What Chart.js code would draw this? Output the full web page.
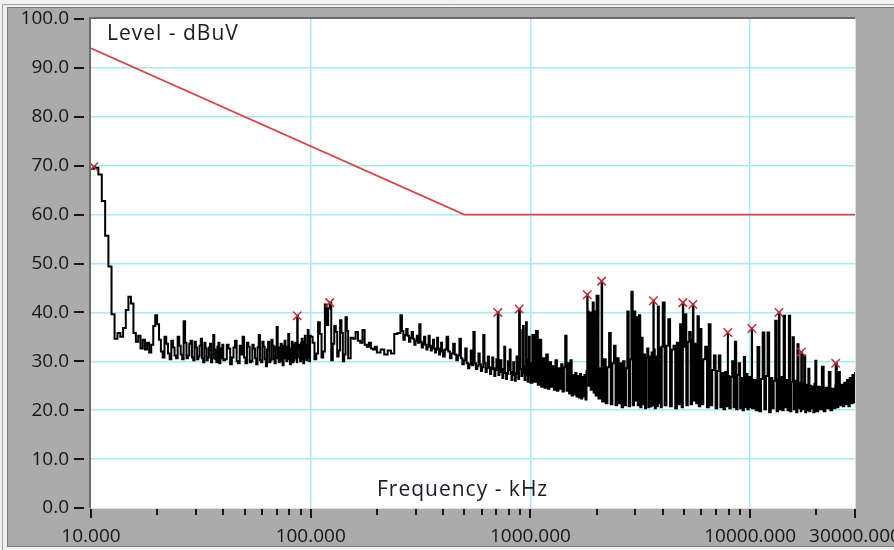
<!DOCTYPE html>
<html>
<head>
<meta charset="utf-8">
<title>Conducted emission scan</title>
<script src="https://cdn.jsdelivr.net/npm/chart.js@4.4.1/dist/chart.umd.min.js"></script>
<style>
  html, body { margin: 0; padding: 0; background: #f0f0f0; }
  #wrap { width: 894px; height: 550px; }
</style>
</head>
<body>
<div id="wrap"><canvas id="scan" width="894" height="550"></canvas></div>
<script>
// Measured spectrum, [frequency kHz, level dBuV], one list per frequency decade
const sweepLow = [
  [10.0,69.4],[10.4,69.6],[10.8,68.2],[11.2,62.8],[11.6,55.7],[12.0,49.4],[12.4,39.6],[12.8,34.6],
  [13.2,35.8],[13.6,35.0],[14.0,36.8],[14.4,40.5],[14.8,43.2],[15.2,41.8],[15.6,35.8],[16.0,34.0],
  [16.4,35.2],[16.8,32.6],[17.2,34.4],[17.6,32.4],[18.0,33.8],[18.4,31.8],[18.8,33.4],[19.2,37.2],
  [19.6,39.4],[20.0,37.6],[20.4,34.4],[20.8,32.0],[21.2,30.8],[21.6,35.0],[22.0,33.6],[22.4,31.6],
  [22.8,30.4],[23.2,34.2],[23.6,32.8],[24.0,31.2],[24.4,30.6],[24.8,35.0],[25.2,33.2],[25.6,31.4],
  [26.0,30.4],[26.4,38.2],[26.8,33.8],[27.2,30.6],[27.6,31.2],[28.0,33.6],[28.4,34.2],[28.8,30.8],
  [29.2,30.2],[29.6,34.0],[30.0,32.8],[30.4,30.4],[30.8,31.0],[31.2,33.2],[31.6,34.6],[32.0,30.6],
  [32.4,29.8],[32.8,33.8],[33.2,32.6],[33.6,30.2],[34.0,30.8],[34.4,32.8],[34.8,33.6],[35.2,29.8],
  [35.6,30.6],[36.0,35.4],[36.4,32.4],[36.8,30.4],[37.2,29.8],[37.6,33.0],[38.0,33.8],[38.4,29.6],
  [38.8,30.6],[39.2,32.6],[39.6,33.4],[40.0,30.2],[40.75,30.4],[41.5,33.4],[42.25,32.6],[43.0,29.4],
  [43.75,30.8],[44.5,32.8],[45.25,34.2],[46.0,30.0],[46.75,29.6],[47.5,33.2],[48.25,31.4],[49.0,35.0],
  [49.75,30.8],[50.5,29.6],[51.25,33.8],[52.0,33.0],[52.75,29.8],[53.5,30.0],[54.25,33.4],[55.0,32.6],
  [55.75,30.6],[56.5,29.4],[57.25,32.8],[58.0,35.4],[58.75,30.2],[59.5,29.8],[60.25,34.0],[61.0,33.0],
  [61.75,30.4],[62.5,29.0],[63.25,32.4],[64.0,34.0],[64.75,29.8],[65.5,30.2],[66.25,34.4],[67.0,33.2],
  [67.75,30.4],[68.5,29.6],[69.25,33.0],[70.0,37.0],[70.75,30.6],[71.5,29.8],[72.25,32.8],[73.0,33.6],
  [73.75,30.0],[74.5,29.2],[75.25,33.2],[76.0,34.2],[76.75,30.6],[77.5,30.0],[78.25,33.0],[79.0,35.6],
  [79.75,30.4],[80.5,29.4],[81.25,32.6],[82.0,34.0],[82.75,29.8],[83.5,30.2],[84.25,33.4],[85.0,33.8],
  [85.75,30.6],[86.5,29.8],[87.25,32.4],[88.0,33.4],[88.75,30.8],[89.5,30.0],[90.25,33.8],[91.0,34.6],
  [91.75,30.4],[92.5,29.6],[93.25,34.0],[94.0,35.2],[94.75,30.6],[95.5,30.2],[96.25,33.4],[97.0,36.4],
  [97.75,30.8],[98.5,30.0],[99.25,35.2]
];

const sweepMid = [
  [100,35.0],[102,33.8],[104,30.4],[106,31.6],[108,38.0],[110,35.6],[112,30.8],[114,32.0],
  [116,41.6],[118,37.4],[120,40.8],[124,30.2],[126,33.6],[128,37.2],[130,36.0],[132,31.0],
  [134,32.2],[136,38.4],[138,35.8],[140,30.0],[142,31.4],[144,39.0],[146,36.2],[148,30.6],
  [152,34.8],[156,34.6],[160,36.0],[164,34.2],[168,33.8],[172,36.4],[176,33.4],[180,33.0],
  [184,33.8],[188,32.6],[192,32.4],[196,33.0],[200,31.8],[208,32.4],[216,31.4],[224,32.2],
  [232,31.6],[240,35.6],[248,35.8],[256,39.4],[260,36.2],[264,34.4],[268,35.4],[272,36.6],
  [276,35.2],[280,34.0],[284,34.8],[288,36.0],[292,34.6],[296,33.4],[300,34.2],[304,35.2],
  [308,33.8],[312,37.6],[316,34.0],[320,32.8],[324,33.6],[328,35.0],[332,33.4],[336,32.4],
  [340,33.0],[344,35.2],[348,33.2],[352,32.2],[356,32.8],[360,34.4],[364,32.6],[368,31.8],
  [372,32.4],[376,34.8],[380,32.6],[384,31.4],[388,32.0],[392,33.8],[396,32.2],[400,31.0],
  [407.5,32.4],[415,35.0],[422.5,32.0],[430,30.6],[437.5,31.6],[445,33.6],[452.5,31.4],[460,30.2],
  [467.5,31.2],[475,34.6],[482.5,30.6],[490,29.4],[497.5,30.2],[505,32.6],[512.5,29.6],[520,28.6],
  [527.5,29.4],[535,32.2],[542.5,29.2],[550,36.0],[557.5,29.6],[565,28.4],[572.5,29.0],[580,31.6],
  [587.5,29.4],[595,28.0],[602.5,28.8],[610,35.4],[617.5,29.6],[625,27.8],[632.5,28.6],[640,31.0],
  [647.5,28.8],[655,27.4],[662.5,28.4],[670,30.8],[677.5,28.6],[685,27.0],[692.5,28.2],[700,30.4],
  [707.5,28.4],[715,27.2],[722.5,28.0],[730,30.2],[737.5,27.8],[745,26.6],[752.5,28.4],[760,33.0],
  [767.5,27.6],[775,26.4],[782.5,27.4],[790,30.0],[797.5,28.2],[805,32.4],[812.5,27.4],[820,26.2],
  [827.5,27.8],[835,29.8],[842.5,27.2],[850,26.0],[857.5,27.6],[865,31.0],[872.5,27.4],[880,26.4],
  [895,36.4],[902.5,28.4],[910,27.0],[917.5,27.6],[925,37.2],[932.5,29.0],[940,26.2],[947.5,27.2],
  [955,38.0],[962.5,30.4],[970,25.8],[977.5,27.0],[985,35.0],[992.5,29.6]
];

const sweepHigh = [
  [1000,25.6],[1020,35.4],[1040,25.8],[1060,36.2],[1080,25.2],[1100,34.4],[1120,24.8],[1140,30.6],
  [1160,24.6],[1180,31.4],[1200,24.4],[1220,29.8],[1240,24.8],[1260,29.0],[1280,24.2],[1300,30.2],
  [1320,24.0],[1340,28.6],[1360,24.4],[1380,29.4],[1400,23.8],[1420,28.8],[1440,35.2],[1460,24.0],
  [1480,29.6],[1500,23.4],[1520,30.2],[1540,23.0],[1560,27.2],[1580,23.2],[1600,27.6],[1620,22.8],
  [1640,27.0],[1660,22.6],[1680,27.4],[1700,22.4],[1720,26.8],[1740,22.8],[1760,27.2],[1780,22.2],
  [1800,28.0],[1820,40.2],[1840,25.0],[1860,40.0],[1880,24.2],[1900,27.6],[1920,42.0],[1940,23.6],
  [1960,40.2],[1980,23.0],[2000,43.4],[2040,22.4],[2080,28.6],[2120,21.8],[2160,30.4],[2200,21.4],
  [2240,28.8],[2280,35.8],[2320,21.2],[2360,29.6],[2400,33.2],[2440,21.0],[2480,30.6],[2520,21.4],
  [2560,29.6],[2600,20.6],[2640,30.0],[2680,21.0],[2720,28.6],[2760,40.2],[2800,20.8],[2840,30.4],
  [2880,44.2],[2920,21.0],[2960,40.2],[3000,22.0],[3040,39.0],[3080,21.0],[3120,39.4],[3160,20.6],
  [3200,34.8],[3240,21.2],[3280,31.4],[3320,20.4],[3360,30.8],[3400,32.6],[3440,20.6],[3480,31.0],
  [3520,20.8],[3560,31.8],[3600,21.0],[3640,32.4],[3680,20.4],[3720,31.0],[3760,20.8],[3800,41.2],
  [3840,21.4],[3880,32.8],[3920,20.6],[3960,33.0],[4000,42.0],[4080,21.0],[4160,33.2],[4240,38.6],
  [4320,20.8],[4400,32.4],[4480,33.2],[4560,20.4],[4640,33.8],[4720,21.2],[4800,37.6],[4880,20.6],
  [4960,33.0],[5040,39.6],[5120,21.0],[5200,34.0],[5280,36.0],[5360,21.2],[5440,34.4],[5520,22.0],
  [5600,33.6],[5680,21.4],[5760,39.2],[5840,20.8],[5920,36.6],[6000,21.2],[6120,30.4],[6240,33.0],
  [6360,20.6],[6480,37.6],[6600,21.0],[6720,28.2],[6840,31.2],[6960,20.4],[7080,28.0],[7200,31.2],
  [7320,20.6],[7440,27.6],[7560,20.2],[7680,27.8],[7800,20.8],[7920,27.0],[8040,20.4],[8160,26.8],
  [8280,30.0],[8400,20.6],[8520,34.0],[8640,20.2],[8760,27.2],[8880,29.6],[9000,20.4],[9120,26.6],
  [9240,20.0],[9360,30.9],[9480,20.6],[9600,27.4],[9720,20.2],[9840,26.8],[9960,20.6]
];

const sweepTop = [
  [10000,26.8],[10200,20.4],[10400,26.2],[10600,20.0],[10800,32.9],[11000,19.8],[11200,26.4],[11400,35.9],
  [11600,20.2],[11800,27.0],[12000,35.9],[12200,19.6],[12400,26.6],[12600,20.4],[12800,26.0],[13000,38.3],
  [13200,19.8],[13400,26.4],[13600,20.2],[13800,26.8],[14000,20.0],[14200,39.3],[14400,20.6],[14600,26.2],
  [14800,20.0],[15000,39.3],[15200,19.8],[15400,25.8],[15600,34.9],[15800,20.2],[16000,26.0],[16200,19.6],
  [16400,33.5],[16600,20.4],[16800,25.6],[17000,19.8],[17200,25.4],[17400,20.2],[17600,31.2],[17800,19.6],
  [18000,25.2],[18200,20.0],[18400,28.5],[18600,19.8],[18800,25.0],[19000,20.4],[19200,24.8],[19400,19.6],
  [19600,25.4],[19800,30.1],[20000,19.8],[20400,24.8],[20800,20.2],[21200,28.9],[21600,19.8],[22000,24.6],
  [22400,20.4],[22800,27.8],[23200,20.0],[23600,24.4],[24000,20.4],[24400,25.0],[24800,20.6],[25200,27.8],
  [25600,21.0],[26000,25.2],[26400,20.8],[26800,25.6],[27200,21.2],[27600,26.2],[28000,20.8],[28400,26.6],
  [28800,21.4],[29200,27.2],[29600,21.6],[30000,27.8]
];

// Peak search results (marked with x)
const peaks = [
  [10.3,69.8],[86.8,39.3],[122,42.0],[710,40.0],[888,40.7],[1814,43.6],[2108,46.4],[3627,42.4],
  [4940,42.0],[5487,41.6],[7912,35.9],[10180,36.7],[13520,40.0],[17080,31.9],[24500,29.6]
];

// Limit line
const limitKHz = [10, 500, 30000];
const limitDbuV = [94, 60, 60];

// Axis ticks
const xTickValues = [10,20,30,40,50,60,70,80,90,100,200,300,400,500,600,700,800,900,
  1000,2000,3000,4000,5000,6000,7000,8000,9000,10000,20000,30000];
const xLabelValues = [10, 100, 1000, 10000, 30000];
const xGridValues = [100, 1000, 10000];
const yTickValues = [0,10,20,30,40,50,60,70,80,90,100];

const GRID = '#a4ecf1';
const INK = '#161616';
const FONT = '"Open Sans", "Noto Sans", sans-serif';

const toPoint = ([x, y]) => ({ x, y });
const spectrum = [...sweepLow, ...sweepMid, ...sweepHigh, ...sweepTop, ...peaks]
  .sort((a, b) => a[0] - b[0])
  .map(toPoint);
const limit = limitKHz.map((f, i) => ({ x: f, y: limitDbuV[i] }));

const panel = {
  id: 'panel',
  beforeDraw(chart) {
    const { ctx, chartArea: a, width, height } = chart;
    ctx.save();
    ctx.fillStyle = '#f0f0f0';
    ctx.fillRect(0, 0, width, height);
    ctx.strokeStyle = '#a3a3a3';
    ctx.lineWidth = 1;
    ctx.beginPath();
    ctx.moveTo(2.5, height);
    ctx.lineTo(2.5, 4.5);
    ctx.lineTo(width, 4.5);
    ctx.stroke();
    ctx.fillStyle = '#ababab';
    ctx.fillRect(7, 7, width - 7, 540);
    ctx.strokeStyle = '#7a7a7a';
    ctx.beginPath();
    ctx.moveTo(7.5, 547);
    ctx.lineTo(7.5, 7.5);
    ctx.lineTo(width, 7.5);
    ctx.moveTo(7, 546.5);
    ctx.lineTo(width, 546.5);
    ctx.stroke();
    ctx.fillStyle = '#ffffff';
    ctx.fillRect(a.left, a.top, a.right - a.left, a.bottom - a.top);
    ctx.restore();
  },
  afterDraw(chart) {
    const { ctx, chartArea: a } = chart;
    const xs = chart.scales.x;
    const ys = chart.scales.y;
    ctx.save();
    // sunken frame round the plot
    ctx.strokeStyle = '#6c6c6c';
    ctx.lineWidth = 2;
    ctx.beginPath();
    ctx.moveTo(a.left - 1, a.bottom);
    ctx.lineTo(a.left - 1, a.top - 1);
    ctx.lineTo(a.right, a.top - 1);
    ctx.stroke();
    ctx.strokeStyle = '#dcdcdc';
    ctx.lineWidth = 1;
    ctx.beginPath();
    ctx.moveTo(a.left, a.bottom + 0.5);
    ctx.lineTo(a.right + 0.5, a.bottom + 0.5);
    ctx.lineTo(a.right + 0.5, a.top);
    ctx.stroke();

    // tick marks
    ctx.fillStyle = INK;
    xTickValues.forEach(v => {
      const px = Math.round(xs.getPixelForValue(v));
      const len = xLabelValues.includes(v) ? 9 : 6;
      ctx.fillRect(px - 1, a.bottom + 1, 2, len);
    });
    yTickValues.forEach(v => {
      const py = Math.round(ys.getPixelForValue(v));
      ctx.fillRect(74, py - 1, 10, 2);
    });

    // axis captions inside the plot
    ctx.font = '21px ' + FONT;
    ctx.fillStyle = '#1c1a24';
    ctx.textBaseline = 'alphabetic';
    ctx.letterSpacing = '1px';
    ctx.fillText('Level - dBuV', 107, 40);
    ctx.fillText('Frequency - kHz', 377, 496);
    ctx.restore();
  }
};

new Chart(document.getElementById('scan'), {
  type: 'scatter',
  data: {
    datasets: [
      {
        label: 'Peaks',
        data: peaks.map(toPoint),
        showLine: false,
        pointStyle: 'crossRot',
        pointRadius: 6,
        pointBorderColor: '#bf2e3c',
        pointBorderWidth: 1.5,
        order: 0
      },
      {
        label: 'Level',
        data: spectrum,
        showLine: true,
        stepped: true,
        borderColor: '#000000',
        borderWidth: 2,
        pointRadius: 0,
        order: 1
      },
      {
        label: 'Limit',
        data: limit,
        showLine: true,
        borderColor: '#d24848',
        borderWidth: 1.8,
        pointRadius: 0,
        order: 2
      }
    ]
  },
  options: {
    responsive: false,
    animation: false,
    events: [],
    layout: { padding: { left: 0, top: 19, right: 39, bottom: 0 } },
    plugins: {
      legend: { display: false },
      tooltip: { enabled: false }
    },
    scales: {
      x: {
        type: 'logarithmic',
        min: 10,
        max: 30000,
        afterBuildTicks: (s) => { s.ticks = xTickValues.map(v => ({ value: v })); },
        afterFit: (s) => { s.height = 42; s.paddingLeft = 0; s.paddingRight = 0; },
        border: { display: false },
        grid: {
          drawTicks: false,
          lineWidth: 1.5,
          color: (c) => (c.tick && xGridValues.includes(c.tick.value) ? GRID : 'transparent')
        },
        ticks: {
          autoSkip: false,
          maxRotation: 0,
          minRotation: 0,
          padding: 17,
          color: INK,
          font: { family: FONT, size: 19 },
          callback: (v) => (xLabelValues.includes(v) ? v.toFixed(3) : '')
        }
      },
      y: {
        min: 0,
        max: 100,
        afterBuildTicks: (s) => { s.ticks = yTickValues.map(v => ({ value: v })); },
        afterFit: (s) => { s.width = 91; s.paddingTop = 0; s.paddingBottom = 0; },
        border: { display: false },
        grid: {
          drawTicks: false,
          lineWidth: 1.5,
          color: (c) => (c.tick && c.tick.value > 0 && c.tick.value < 100 ? GRID : 'transparent')
        },
        ticks: {
          padding: 22,
          color: INK,
          font: { family: FONT, size: 19 },
          callback: (v) => v.toFixed(1)
        }
      }
    }
  },
  plugins: [panel]
});
</script>
</body>
</html>
